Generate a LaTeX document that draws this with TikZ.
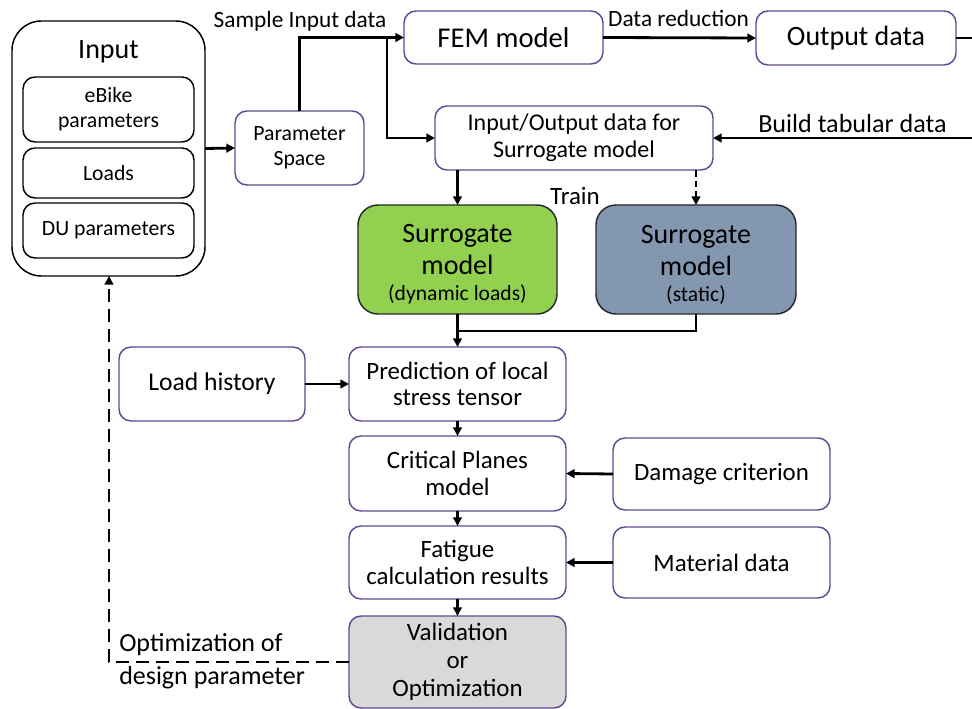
\documentclass[tikz,border=0pt]{standalone}
\usepackage{fontspec}
\setmainfont{Carlito}
\usetikzlibrary{arrows.meta}
\definecolor{pbord}{RGB}{98,72,148}
\definecolor{sgreen}{RGB}{146,208,80}
\definecolor{sblue}{RGB}{132,151,176}
\definecolor{sgray}{RGB}{217,217,217}
\definecolor{dbord}{RGB}{40,40,40}
\begin{document}
\begin{tikzpicture}[x=0.75pt,y=-0.75pt,
  txt/.style={font=\fontsize{18.7}{20}\selectfont},
  lbl/.style={font=\fontsize{17.5}{20}\selectfont,inner sep=0pt},
  wbox/.style={draw=pbord,line width=1.1pt,rounded corners=9pt,fill=white,align=center,inner sep=0pt,outer sep=0pt,txt},
  kbox/.style={draw=black,line width=1.1pt,rounded corners=9pt,fill=white,align=center,inner sep=0pt,outer sep=0pt,font=\fontsize{16.3}{18.75}\selectfont},
  sbox/.style={draw=dbord,line width=1.1pt,rounded corners=15pt,align=center,inner sep=0pt,outer sep=0pt,font=\fontsize{21}{24}\selectfont},
  conn/.style={line width=2.1pt},
  arr/.style={conn,-{Triangle[length=6.5pt,width=6.5pt]}},
  dsh/.style={arr,dash pattern=on 10pt off 5pt},
  sdsh/.style={arr,dash pattern=on 5pt off 3pt}]
\useasboundingbox (0,0) rectangle (972,709);

% Input group
\node[draw=black,line width=1.1pt,rounded corners=22pt,minimum width=144.75pt,minimum height=191.25pt,inner sep=0pt,outer sep=0pt] (inp) at (108.5,148.5) {};
\node[font=\fontsize{21}{24}\selectfont,inner sep=0pt] (inptitle) at (108.5,52) {Input};
\node[kbox,minimum width=128.25pt,minimum height=48.75pt] (ebike) at (108.5,109.5) {eBike\\parameters};
\node[kbox,minimum width=128.25pt,minimum height=37.5pt] (loads) at (108.5,173) {Loads};
\node[kbox,minimum width=128.25pt,minimum height=41.25pt] (du) at (108.5,230.5) {DU parameters};

\node[wbox,minimum width=96.75pt,minimum height=55.5pt,font=\fontsize{16.3}{18.75}\selectfont] (ps) at (299.5,148) {Parameter\\Space};
\node[wbox,minimum width=149.25pt,minimum height=39.75pt,font=\fontsize{21.5}{24}\selectfont] (fem) at (503.5,37.5) {FEM model};
\node[wbox,minimum width=150pt,minimum height=40.5pt,font=\fontsize{21}{24}\selectfont] (out) at (856,38) {Output data};
\node[wbox,minimum width=208.5pt,minimum height=48pt,font=\fontsize{18}{20.5}\selectfont] (io) at (574,138) {Input/Output data for\\Surrogate model};

\node[sbox,fill=sgreen,minimum width=149.25pt,minimum height=81.75pt] (sgd) at (457.5,259.5) {\rule{0pt}{21pt}Surrogate\\model\\[-4.5pt]\fontsize{16.2}{19}\selectfont (dynamic loads)};
\node[sbox,fill=sblue,minimum width=150pt,minimum height=81.75pt] (sgs) at (696,259.5) {\rule{0pt}{21pt}Surrogate\\model\\[-4.5pt]\fontsize{16.2}{19}\selectfont (static)};

\node[wbox,minimum width=139.5pt,minimum height=55.5pt,font=\fontsize{19.2}{21}\selectfont] (lh) at (212,384) {Load history};
\node[wbox,minimum width=162.75pt,minimum height=55.5pt] (pred) at (457.5,384) {Prediction of local\\stress tensor};
\node[wbox,minimum width=162.75pt,minimum height=56.25pt] (crit) at (457.5,473.5) {Critical Planes\\model};
\node[wbox,minimum width=162.75pt,minimum height=54.75pt] (fat) at (457.5,562.5) {Fatigue\\calculation results};
\node[wbox,fill=sgray,minimum width=162.75pt,minimum height=69pt,font=\fontsize{18.7}{21}\selectfont] (val) at (457.5,662) {Validation\\or\\Optimization};
\node[wbox,minimum width=162.75pt,minimum height=54pt] (dmg) at (721.5,474) {Damage criterion};
\node[wbox,minimum width=162.75pt,minimum height=53.25pt] (mat) at (721.5,562.5) {Material data};

% labels
\node[lbl] (lsample) at (300,21) {Sample Input data};
\node[lbl] (lred) at (678.5,18) {Data reduction};
\node[lbl,font=\fontsize{19.6}{22}\selectfont] (lbuild) at (852.5,124) {Build tabular data};
\node[lbl,font=\fontsize{18.7}{21}\selectfont] (ltrain) at (575,196) {Train};
\node[lbl,font=\fontsize{19.5}{22}\selectfont,anchor=west] (lopt1) at (119,645) {Optimization of};
\node[lbl,font=\fontsize{19.5}{22}\selectfont,anchor=west] (lopt2) at (119,678) {design parameter};

% coordinates
\coordinate (br) at (387,37.5);
\coordinate (edge1) at (972,38);
\coordinate (edge2) at (972,138);
\coordinate (mg) at (457.5,331);
\coordinate (lp) at (109,662);

% connectors
\draw[arr] (inp.east) -- (ps.west);
\draw[arr] (ps.north) |- (fem.west);
\draw[arr] (br) |- (io.west);
\draw[arr] (fem.east) -- (out.west);
\draw[conn] (out.east) -- (edge1);
\draw[arr] (edge2) -- (io.east);
\draw[arr] (io.south -| sgd.north) -- (sgd.north);
\draw[sdsh] (io.south -| sgs.north) -- (sgs.north);
\draw[arr] (sgd.south) -- (pred.north);
\draw[conn] (sgs.south) |- (mg);
\draw[arr] (lh.east) -- (pred.west);
\draw[arr] (pred.south) -- (crit.north);
\draw[arr] (crit.south) -- (fat.north);
\draw[arr] (fat.south) -- (val.north);
\draw[arr] (dmg.west) -- (crit.east);
\draw[arr] (mat.west) -- (fat.east);
\draw[dsh] (val.west) -- (lp) -- (lp |- inp.south);
\end{tikzpicture}
\end{document}
